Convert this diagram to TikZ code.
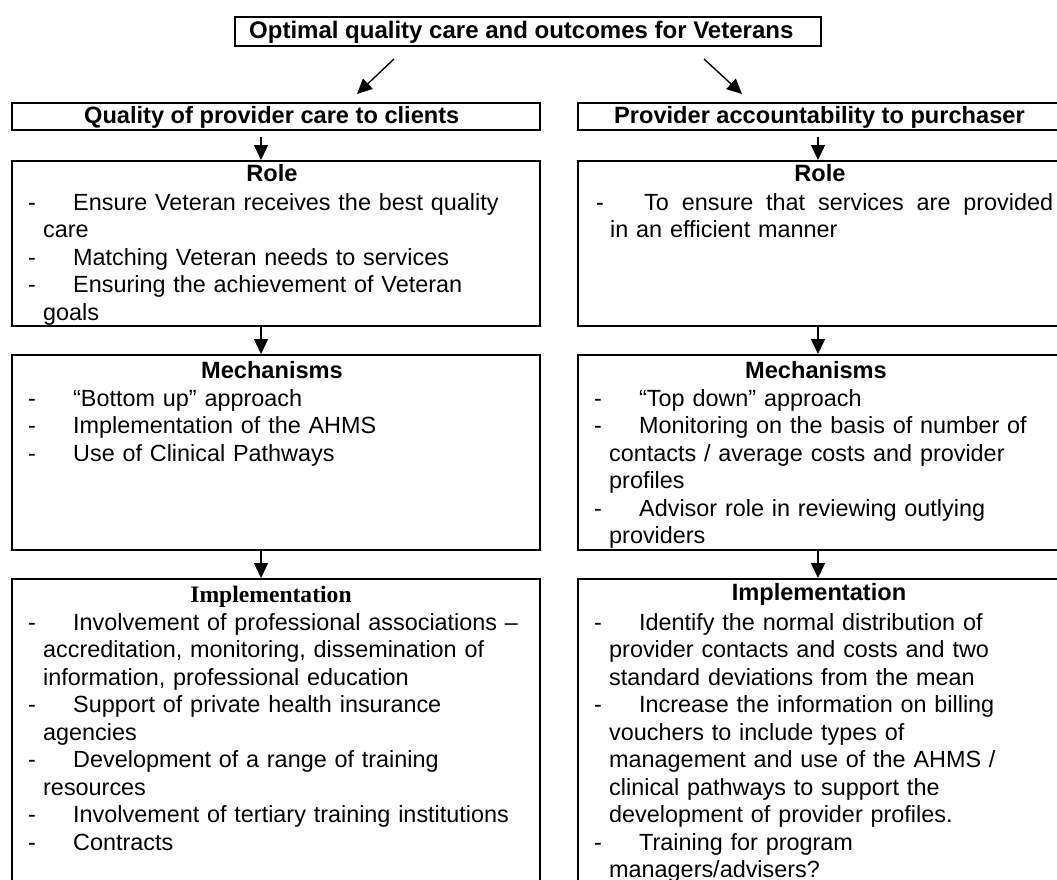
\documentclass[tikz,border=0pt]{standalone}
\usepackage{fontspec}
\setmainfont{Liberation Sans}
\newfontfamily\timesfont{Liberation Serif}
\usetikzlibrary{arrows.meta}
% list lines: a dash with the item text after it, and a continuation line
\newcommand\dl[1]{\makebox[45pt][l]{-}#1}
\newcommand\cl[1]{\hspace*{15pt}#1}

\begin{document}
\begin{tikzpicture}[x=1pt,y=-1pt,
  frame/.style={draw, line width=2pt, inner sep=0pt, anchor=north west},
  arr/.style={line width=1.4pt, -{Triangle[length=15pt,width=14pt]}},
  head/.style={font=\bfseries\fontsize{23.6}{27.5}\selectfont, anchor=base, inner sep=0pt},
  body/.style={font=\fontsize{23.4}{27.5}\selectfont, anchor=base west, inner sep=0pt,
               text width=540pt, align=left},
]
\useasboundingbox (0,0) rectangle (1057,879);
\fill[white] (0,0) rectangle (1057,879);
\clip (0,0) rectangle (1057,879);

% goal
\node[frame, minimum width=586pt, minimum height=29pt] (top) at (234,16) {};
\node[head, anchor=base west, font=\bfseries\fontsize{24}{27.5}\selectfont] (toptxt) at (249,38) {Optimal quality care and outcomes for Veterans};

% column headers
\node[frame, minimum width=528pt, minimum height=27pt] (lhead) at (11,102) {};
\node[head, anchor=base west] (lheadtxt) at (84,123) {Quality of provider care to clients};
\node[frame, minimum width=528pt, minimum height=27pt] (rhead) at (577,102) {};
\node[head, anchor=base west] (rheadtxt) at (614,123) {Provider accountability to purchaser};

% left column
\node[frame, minimum width=528pt, minimum height=165pt] (lrole) at (11,160) {};
\node[frame, minimum width=528pt, minimum height=195pt] (lmech) at (11,354) {};
\node[frame, minimum width=528pt, minimum height=330pt] (limpl) at (11,578) {};

% right column
\node[frame, minimum width=528pt, minimum height=165pt] (rrole) at (577,160) {};
\node[frame, minimum width=528pt, minimum height=195pt] (rmech) at (577,354) {};
\node[frame, minimum width=528pt, minimum height=330pt] (rimpl) at (577,578) {};

% headings
\node[head] (lroleh) at (272,181) {Role};
\node[head] (lmechh) at (272,378) {Mechanisms};
\node[head, font=\timesfont\bfseries\fontsize{23.6}{27.5}\selectfont] (limplh) at (271,602) {Implementation};
\node[head] (rroleh) at (820,181) {Role};
\node[head] (rmechh) at (816,378) {Mechanisms};
\node[head] (rimplh) at (819,600) {Implementation};

% left texts
\node[body] (lroleb) at (28,210) {%
  \dl{Ensure Veteran receives the best quality}\\
  \cl{care}\\
  \dl{Matching Veteran needs to services}\\
  \dl{Ensuring the achievement of Veteran}\\
  \cl{goals}};
\node[body] (lmechb) at (28,406) {%
  \dl{“Bottom up” approach}\\
  \dl{Implementation of the AHMS}\\
  \dl{Use of Clinical Pathways}};
\node[body] (limplb) at (28,630) {%
  \dl{Involvement of professional associations –}\\
  \cl{accreditation, monitoring, dissemination of}\\
  \cl{information, professional education}\\
  \dl{Support of private health insurance}\\
  \cl{agencies}\\
  \dl{Development of a range of training}\\
  \cl{resources}\\
  \dl{Involvement of tertiary training institutions}\\
  \dl{Contracts}};

% right texts (first role line set justified)
\node[body] (rroleb) at (596,210) {%
  \makebox[48pt][l]{-}\makebox[409pt][l]{To\hfill ensure\hfill that\hfill services\hfill are\hfill provided}\\
  \hspace*{14pt}in an efficient manner};
\node[body] (rmechb) at (594,406) {%
  \dl{“Top down” approach}\\
  \dl{Monitoring on the basis of number of}\\
  \cl{contacts / average costs and provider}\\
  \cl{profiles}\\
  \dl{Advisor role in reviewing outlying}\\
  \cl{providers}};
\node[body] (rimplb) at (594,630) {%
  \dl{Identify the normal distribution of}\\
  \cl{provider contacts and costs and two}\\
  \cl{standard deviations from the mean}\\
  \dl{Increase the information on billing}\\
  \cl{vouchers to include types of}\\
  \cl{management and use of the AHMS /}\\
  \cl{clinical pathways to support the}\\
  \cl{development of provider profiles.}\\
  \dl{Training for program}\\
  \cl{managers/advisers?}};

% connectors
\coordinate (xl) at (261,0);
\coordinate (xr) at (818,0);
\draw[arr] ([shift={(-134,12)}]top.south) -- ([shift={(81,-8)}]lhead.north);
\draw[arr] ([shift={(176,12)}]top.south) -- ([shift={(-100,-8)}]rhead.north);
\draw[arr, shorten <=6pt] (lhead.south -| xl) -- (lrole.north -| xl);
\draw[arr] (lrole.south -| xl) -- (lmech.north -| xl);
\draw[arr] (lmech.south -| xl) -- (limpl.north -| xl);
\draw[arr, shorten <=6pt] (rhead.south -| xr) -- (rrole.north -| xr);
\draw[arr] (rrole.south -| xr) -- (rmech.north -| xr);
\draw[arr] (rmech.south -| xr) -- (rimpl.north -| xr);
\end{tikzpicture}
\end{document}
